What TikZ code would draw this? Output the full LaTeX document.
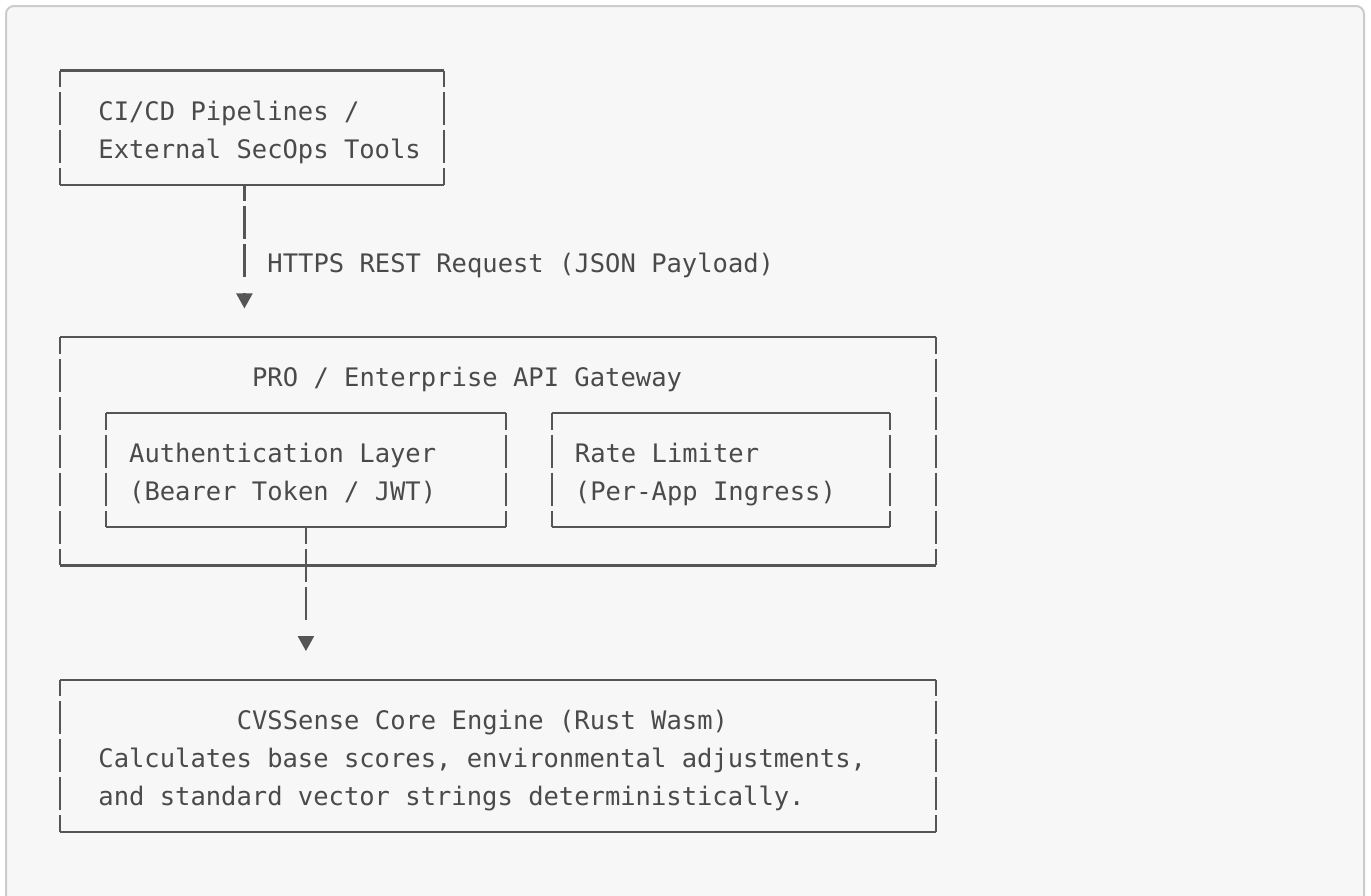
\documentclass[tikz,border=0pt]{standalone}
\usepackage{fontspec}
\newfontfamily\monofam{DejaVu Sans Mono}
\usetikzlibrary{arrows.meta}
\definecolor{bgc}{HTML}{F7F7F7}
\definecolor{framec}{HTML}{CCCCCC}
\definecolor{ink}{HTML}{4A4A4A}
\definecolor{linec}{HTML}{555555}
\def\W{15.37}
\def\L{38.07}
% name, col1, row1, col2, row2
\newcommand\asciibox[5]{%
  \node[boxnode, minimum width={(#4-#2)*\W*1pt}, minimum height={(#5-#3)*\L*1pt}]
    (#1) at ({60+(#2+#4)/2*\W},{70.5+(#3+#5)/2*\L}) {};
  \draw[hline] (#1.north west) -- (#1.north east);
  \draw[hline] (#1.south west) -- (#1.south east);
  \draw[vline] (#1.north west) -- (#1.south west);
  \draw[vline] (#1.north east) -- (#1.south east);
}
% name, col, row, text
\newcommand\tline[4]{\node[txt] (#1) at ({52.315+#2*\W},{82+#3*\L}) {#4};}
\begin{document}
\begin{tikzpicture}[x=1pt,y=-1pt,
  boxnode/.style={rectangle, inner sep=0pt, outer sep=0pt, draw=none},
  hline/.style={draw=linec, line width=2.2pt},
  vline/.style={draw=linec, line width=2.2pt, dash pattern=on 33.07pt off 5pt, dash phase=16.535pt},
  conn/.style={draw=linec, line width=2.2pt,
    dash pattern=on 16.535pt off 5pt on 33.07pt off 5pt on 33.07pt off 16.1pt,
    -{Triangle[length=15pt,width=16pt]}},
  txt/.style={font=\monofam\fontsize{25.5pt}{38pt}\selectfont, text=ink, anchor=base west, inner sep=0pt, outer sep=0pt}]
\useasboundingbox (0,0) rectangle (1371,895);
\clip (0,0) rectangle (1371,895);
\fill[white] (0,0) rectangle (1371,895);
\draw[fill=bgc, draw=framec, line width=2pt, rounded corners=8pt] (6,6) rectangle (1364,940);

% boxes
\asciibox{b1}{0}{0}{25}{3}
\asciibox{b2}{0}{7}{57}{13}
\asciibox{bA}{3}{9}{29}{12}
\asciibox{bB}{32}{9}{54}{12}
\asciibox{b3}{0}{16}{57}{20}

% texts
\tline{t1a}{3}{1}{CI/CD Pipelines /}
\tline{t1b}{3}{2}{External SecOps Tools}
\tline{lbl}{14}{5}{HTTPS REST Request (JSON Payload)}
\tline{t2}{13}{8}{PRO / Enterprise API Gateway}
\tline{tA1}{5}{10}{Authentication Layer}
\tline{tA2}{5}{11}{(Bearer Token / JWT)}
\tline{tB1}{34}{10}{Rate Limiter}
\tline{tB2}{34}{11}{(Per-App Ingress)}
\tline{t3a}{12}{17}{CVSSense Core Engine (Rust Wasm)}
\tline{t3b}{3}{18}{Calculates base scores, environmental adjustments,}
\tline{t3c}{3}{19}{and standard vector strings deterministically.}

% connectors
\coordinate (tip1) at ({60+12*\W},{70.5+6*\L+9.5});
\draw[conn] (tip1 |- b1.south) -- (tip1);
\coordinate (tip2) at ({60+16*\W},{70.5+15*\L+9.5});
\draw[conn] (bA.south) -- (tip2);
\end{tikzpicture}
\end{document}
